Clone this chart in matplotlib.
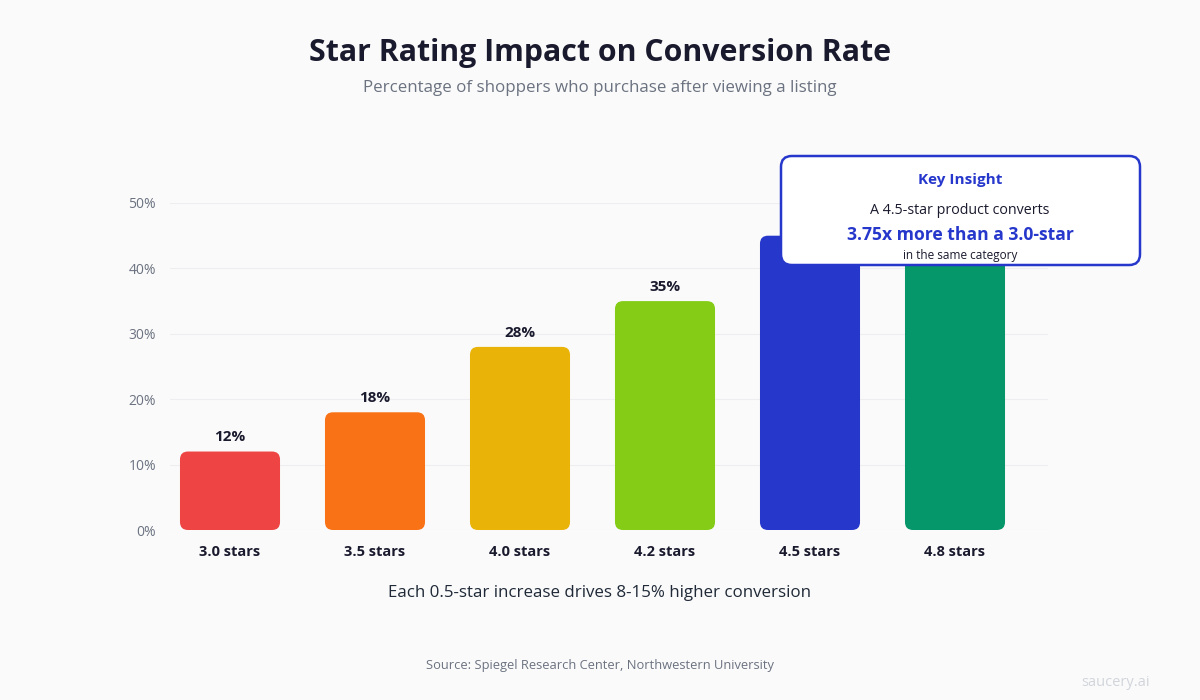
import numpy as np
import matplotlib.pyplot as plt
from matplotlib.patches import FancyBboxPatch
import matplotlib as mpl

mpl.rcParams['font.family'] = ['Open Sans', 'DejaVu Sans']

ratings = ['3.0 stars', '3.5 stars', '4.0 stars', '4.2 stars', '4.5 stars', '4.8 stars']
conversion = [12, 18, 28, 35, 45, 48]
colors = ['#EF4444', '#F97316', '#EAB308', '#84CC16', '#2637CC', '#059669']
# value labels of the last two bars sit under the insight box in the original
show_label = [True, True, True, True, False, False]
yticks = [0, 10, 20, 30, 40, 50]

BG = '#FAFAFA'
DARK = '#1A1A2E'
GRAY = '#6B7280'
BLUE = '#2637CC'

fig = plt.figure(figsize=(12, 7), dpi=100, facecolor=BG)
ax = fig.add_axes([170/1200, 170/700, 878/1200, 327/700])
ax.set_facecolor(BG)

x = np.arange(len(ratings))
width = 0.69
bars = ax.bar(x, conversion, width=width, color='none')
ax.set_xlim(-60/145, 5 + 93/145)
ax.set_ylim(0, 50)

# rounded bars
px_x = 878 / (ax.get_xlim()[1] - ax.get_xlim()[0])
px_y = 327 / 50
r = 8 / px_x
for b, c in zip(bars, colors):
    p = FancyBboxPatch((b.get_x(), 0), b.get_width(), b.get_height(),
                       boxstyle=f'round,pad=0,rounding_size={r}',
                       mutation_aspect=px_x / px_y, fc=c, ec='none', zorder=3)
    ax.add_patch(p)

for xi, v, s in zip(x, conversion, show_label):
    if s:
        ax.text(xi, v + 1.1, f'{v}%', ha='center', va='bottom', fontsize=11,
                fontweight='bold', color=DARK, zorder=4)

ax.set_yticks(yticks)
ax.set_yticklabels([f'{t}%' for t in yticks], fontsize=10, color=GRAY)
ax.set_xticks(x)
ax.set_xticklabels(ratings, fontsize=10.5, fontweight='bold', color=DARK)
ax.tick_params(length=0)
ax.tick_params(axis='y', pad=10)
ax.tick_params(axis='x', pad=11)
ax.grid(axis='y', color='#EEEEF0', linewidth=0.8, zorder=0)
for s in ax.spines.values():
    s.set_visible(False)

fig.text(0.5, 1 - 53/700, 'Star Rating Impact on Conversion Rate', ha='center', va='center',
         fontsize=21.8, fontweight='bold', color=DARK)
fig.text(0.5, 1 - 88/700, 'Percentage of shoppers who purchase after viewing a listing',
         ha='center', va='center', fontsize=12.2, color=GRAY)
fig.text(0.5, 1 - 593/700, 'Each 0.5-star increase drives 8-15% higher conversion',
         ha='center', va='center', fontsize=12.2, color='#1F2937')
fig.text(0.5, 1 - 665/700, 'Source: Spiegel Research Center, Northwestern University',
         ha='center', va='center', fontsize=9.3, color=GRAY)
fig.text(1115/1200, 1 - 683/700, 'saucery.ai', ha='center', va='center',
         fontsize=10.5, color='#D1D5DB')

# insight box
box = FancyBboxPatch((781/1200, 1 - 265/700), 359/1200, 109/700,
                     boxstyle='round,pad=0,rounding_size=0.009',
                     mutation_aspect=1200/700, transform=fig.transFigure,
                     fc='white', ec=BLUE, lw=1.8, zorder=10)
fig.add_artist(box)
cx = 960/1200
fig.text(cx, 1 - 180/700, 'Key Insight', ha='center', va='center', fontsize=11,
         fontweight='bold', color=BLUE, zorder=11)
fig.text(cx, 1 - 210/700, 'A 4.5-star product converts', ha='center', va='center',
         fontsize=10.3, color=DARK, zorder=11)
fig.text(cx, 1 - 235/700, '3.75x more than a 3.0-star', ha='center', va='center',
         fontsize=12.6, fontweight='bold', color=BLUE, zorder=11)
fig.text(cx, 1 - 256/700, 'in the same category', ha='center', va='center',
         fontsize=8.5, color=DARK, zorder=11)

fig.savefig('out.png', dpi=100, facecolor=BG)
